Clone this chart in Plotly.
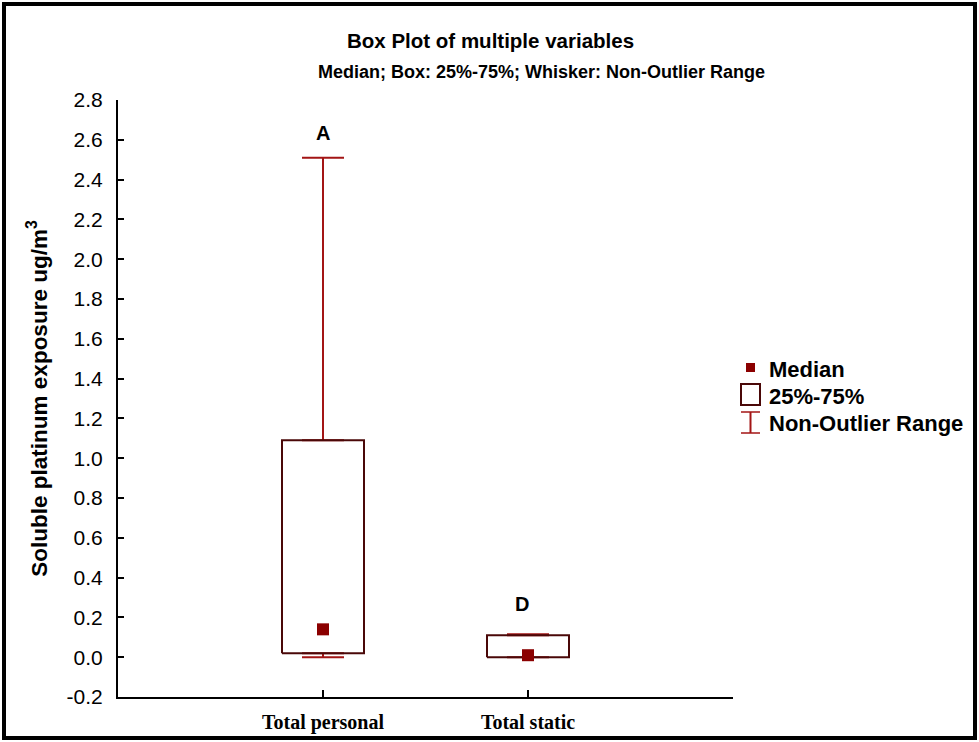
import plotly.graph_objects as go

# ---- data ----
categories = ["Total personal", "Total static"]
medians = [0.14, 0.01]
q1 = [0.02, 0.0]
q3 = [1.09, 0.11]
lower_whisker = [0.0, 0.0]
upper_whisker = [2.51, 0.115]
group_letters = ["A", "D"]
y_tick_values = [-0.2, 0.0, 0.2, 0.4, 0.6, 0.8, 1.0, 1.2, 1.4, 1.6, 1.8, 2.0, 2.2, 2.4, 2.6, 2.8]
y_tick_labels = ["-0.2", "0.0", "0.2", "0.4", "0.6", "0.8", "1.0", "1.2", "1.4", "1.6", "1.8",
                 "2.0", "2.2", "2.4", "2.6", "2.8"]

# ---- styling ----
W, H = 979, 742
ML, MR, MT, MB = 118, 246, 100, 45
PW, PH = W - ML - MR, H - MT - MB
BOX_HALF = 0.2
WHISKER_COLOR = "#a31515"
BOX_COLOR = "#4a0808"
MEDIAN_COLOR = "#8b0000"
SANS = "Liberation Sans, Arial, sans-serif"
SERIF = "Liberation Serif, Times New Roman, serif"


def px(xp):
    return (xp - ML) / PW


def py(yp):
    return (H - MB - yp) / PH


xs = list(range(len(categories)))
fig = go.Figure()

# upper whiskers (from Q3 up to upper non-outlier value)
fig.add_trace(go.Scatter(
    x=xs, y=q3, mode="markers", marker=dict(size=0.1, color="rgba(0,0,0,0)"),
    error_y=dict(type="data", symmetric=False,
                 array=[u - b for u, b in zip(upper_whisker, q3)],
                 arrayminus=[0] * len(xs),
                 color=WHISKER_COLOR, thickness=2, width=21),
    name="Non-Outlier Range", showlegend=False, hoverinfo="skip"))
# lower whiskers
fig.add_trace(go.Scatter(
    x=xs, y=q1, mode="markers", marker=dict(size=0.1, color="rgba(0,0,0,0)"),
    error_y=dict(type="data", symmetric=False,
                 array=[0] * len(xs),
                 arrayminus=[b - l for b, l in zip(q1, lower_whisker)],
                 color=WHISKER_COLOR, thickness=2, width=21),
    showlegend=False, hoverinfo="skip"))

# boxes (25%-75%)
for i, (a, b) in enumerate(zip(q1, q3)):
    fig.add_trace(go.Scatter(
        x=[i - BOX_HALF, i + BOX_HALF, i + BOX_HALF, i - BOX_HALF, i - BOX_HALF],
        y=[a, a, b, b, a], mode="lines",
        line=dict(color=BOX_COLOR, width=2),
        name="25%-75%", showlegend=False, hoverinfo="skip"))

# medians
fig.add_trace(go.Scatter(
    x=xs, y=medians, mode="markers",
    marker=dict(symbol="square", size=12, color=MEDIAN_COLOR),
    name="Median", showlegend=False))

annotations = []
# group letters
for i, (lt, u) in enumerate(zip(group_letters, upper_whisker)):
    annotations.append(dict(x=i, y=u, xref="x", yref="y", text="<b>" + lt + "</b>",
                            showarrow=False, yshift=(25 if i == 0 else 30),
                            xshift=(-6 if i == 1 else 0),
                            font=dict(family=SANS, size=20, color="black")))

# titles
annotations.append(dict(x=px(490), y=py(40), xref="paper", yref="paper",
                        text="<b>Box Plot of multiple variables</b>", showarrow=False,
                        xanchor="center", yanchor="middle",
                        font=dict(family=SANS, size=20.5, color="black")))
annotations.append(dict(x=px(541), y=py(72), xref="paper", yref="paper",
                        text="<b>Median; Box: 25%-75%; Whisker: Non-Outlier Range</b>",
                        showarrow=False, xanchor="center", yanchor="middle",
                        font=dict(family=SANS, size=18, color="black")))

# legend texts
for label, yp in [("Median", 369), ("25%-75%", 396), ("Non-Outlier Range", 423)]:
    annotations.append(dict(x=px(767), y=py(yp), xref="paper", yref="paper",
                            text="<b>" + label + "</b>", showarrow=False,
                            xanchor="left", yanchor="middle",
                            font=dict(family=SANS, size=22, color="black")))

shapes = [
    # outer frame
    dict(type="rect", xref="paper", yref="paper", x0=px(4), x1=px(975), y0=py(738), y1=py(4),
         line=dict(color="black", width=4)),
    # legend: median
    dict(type="rect", xref="paper", yref="paper", x0=px(746), x1=px(755), y0=py(372), y1=py(363),
         fillcolor=MEDIAN_COLOR, line=dict(width=0)),
    # legend: box
    dict(type="rect", xref="paper", yref="paper", x0=px(741), x1=px(760), y0=py(405), y1=py(384),
         line=dict(color=BOX_COLOR, width=2)),
    # legend: whisker
    dict(type="line", xref="paper", yref="paper", x0=px(750.5), x1=px(750.5), y0=py(433), y1=py(412),
         line=dict(color=WHISKER_COLOR, width=2)),
    dict(type="line", xref="paper", yref="paper", x0=px(741), x1=px(760), y0=py(412), y1=py(412),
         line=dict(color=WHISKER_COLOR, width=1.5)),
    dict(type="line", xref="paper", yref="paper", x0=px(741), x1=px(760), y0=py(433), y1=py(433),
         line=dict(color=WHISKER_COLOR, width=1.5)),
]

fig.update_layout(
    width=W, height=H,
    margin=dict(l=ML, r=MR, t=MT, b=MB, pad=0, autoexpand=False),
    paper_bgcolor="white", plot_bgcolor="white",
    showlegend=False,
    annotations=annotations, shapes=shapes,
    xaxis=dict(range=[-1, 2], tickvals=xs,
               ticktext=["<b>" + c + "</b>" for c in categories],
               ticks="inside", ticklen=7, tickwidth=2, tickcolor="black",
               minor=dict(tickvals=[2], ticks="inside", ticklen=7, tickwidth=2,
                          tickcolor="black", showgrid=False),
               showline=True, linecolor="black", linewidth=2, automargin=False,
               showgrid=False, zeroline=False, ticklabelstandoff=6,
               tickfont=dict(family=SERIF, size=20, color="black")),
    yaxis=dict(range=[-0.2, 2.8], tickvals=y_tick_values, ticktext=y_tick_labels,
               ticks="inside", ticklen=6, tickwidth=1.5, tickcolor="black",
               showline=True, linecolor="black", linewidth=2, automargin=False,
               showgrid=False, zeroline=False, ticklabelstandoff=9,
               tickfont=dict(family=SANS, size=21, color="black"),
               title=dict(text="<b>Soluble platinum exposure ug/m<sup>3</sup></b>",
                          font=dict(family=SANS, size=22.5, color="black"), standoff=13)),
)

fig.write_html("out.html", config={"displayModeBar": False},
               post_script="document.body.style.margin='0';document.body.style.overflow='hidden';")
